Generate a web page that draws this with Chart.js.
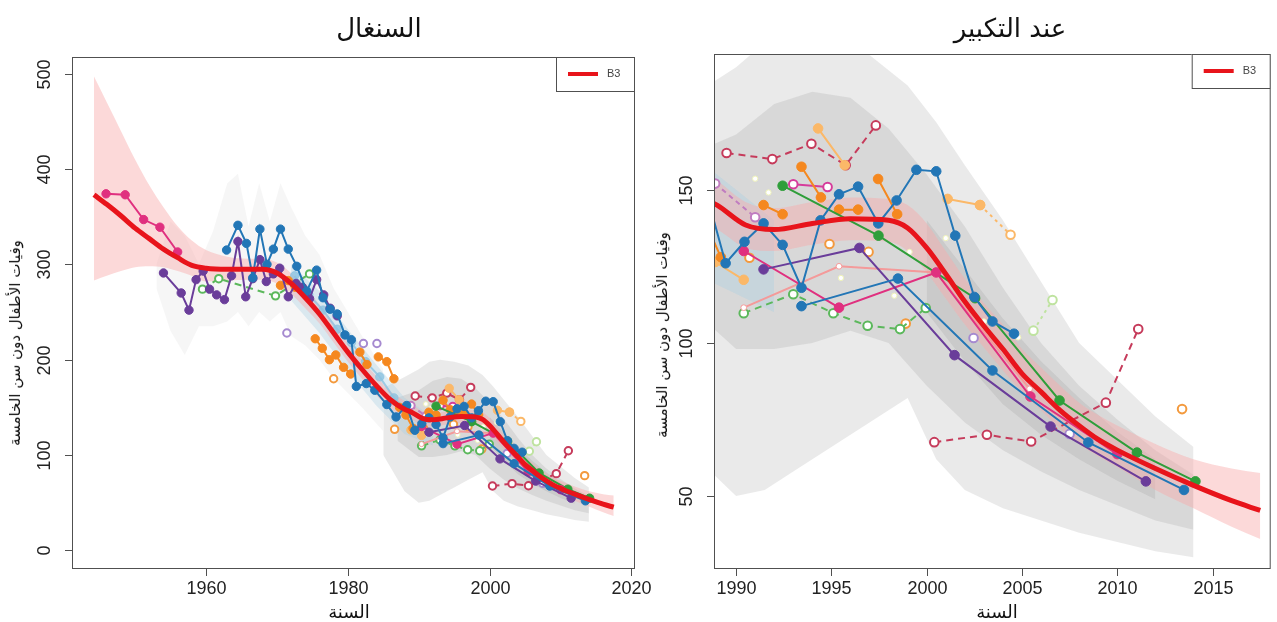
<!DOCTYPE html>
<html lang="ar">
<head>
<meta charset="utf-8">
<title>وفيات الأطفال دون سن الخامسة - السنغال</title>
<script src="https://cdn.jsdelivr.net/npm/chart.js@4.4.1/dist/chart.umd.min.js"></script>
<style>
  html, body { margin: 0; padding: 0; background: #fff; }
  body { width: 1277px; height: 622px; position: relative; overflow: hidden; font-family: "DejaVu Sans", sans-serif; color: #111; }
  .panel { position: absolute; top: 0; height: 622px; }
  #panelG { left: 0; width: 680px; }
  #panelD { left: 640px; width: 637px; }
  canvas { position: absolute; left: 0; top: 0; }
  .titre { position: absolute; top: 10px; height: 36px; line-height: 36px; font-size: 26px; transform: translateX(-50%); white-space: nowrap; direction: rtl; }
  .axeX { position: absolute; top: 601px; height: 22px; line-height: 22px; font-size: 18px; transform: translateX(-50%); white-space: nowrap; direction: rtl; }
  .axeY { position: absolute; font-size: 15px; line-height: 18px; white-space: nowrap; direction: rtl; transform: translate(-50%, -50%) rotate(-90deg); }
</style>
</head>
<body>
<div class="panel" id="panelG">
  <canvas id="chartG" width="680" height="622"></canvas>
  <div class="titre" style="left:379px">السنغال</div>
  <div class="axeX" style="left:349px">السنة</div>
  <div class="axeY" style="left:15px; top:343px">وفيات الأطفال دون سن الخامسة</div>
</div>
<div class="panel" id="panelD">
  <canvas id="chartD" width="637" height="622"></canvas>
  <div class="titre" style="left:370px">عند التكبير</div>
  <div class="axeX" style="left:357px">السنة</div>
  <div class="axeY" style="left:22px; top:335px">وفيات الأطفال دون سن الخامسة</div>
</div>

<script>
// ── AXES ─────────────────────────────────────────────
const xTicksG = [1960, 1980, 2000, 2020];
const yTicksG = [0, 100, 200, 300, 400, 500];
const xTicksD = [1990, 1995, 2000, 2005, 2010, 2015];
const yTicksD = [50, 100, 150];

// ── B3 (courbe ajustée + intervalle) ─────────────────
const b3Years = [1944.2, 1946, 1948, 1950, 1952, 1954, 1956, 1958, 1960, 1963, 1966, 1968, 1970, 1972, 1974, 1976, 1978, 1980, 1982, 1984, 1986, 1988, 1989, 1990.5, 1992, 1994, 1996, 1998, 1999, 2000, 2001, 2002, 2003, 2004, 2005, 2006, 2007, 2008, 2009, 2010, 2012, 2014, 2016, 2017.5];
const b3Mid   = [373, 363, 351, 338, 327, 316, 307, 299, 296, 295, 295, 295, 291, 280, 265, 248, 228, 208, 190, 173, 158, 148, 145, 138.5, 137, 139, 140.5, 140, 137.5, 131, 122.5, 113.5, 105.5, 98, 90, 84, 78, 73, 68.5, 65, 59, 53.5, 48.5, 45.3];
const b3Up    = [497, 470, 440, 410, 383, 360, 340, 325, 315, 308, 306, 306, 302, 291, 276, 258, 238, 218, 200, 183, 167, 157, 153, 146, 144, 146, 147.5, 147, 145, 139, 130, 121, 113, 106, 98, 92, 86, 80.5, 76.5, 73, 67, 62, 59, 57.5];
const b3Low   = [283, 288, 293, 297, 298, 297, 293, 288, 282, 283, 284, 284, 280, 269, 254, 238, 218, 198, 180, 163, 149, 139, 137, 131, 130, 132, 133.5, 133, 130, 123, 114.5, 106, 98.5, 91, 84, 78, 72, 67, 63, 59.5, 52, 46, 40, 36];

// ── SÉRIES (enquêtes) ────────────────────────────────
const pinkYears = [1945.9, 1948.6, 1951.2, 1953.5, 1956.0];
const pinkVals  = [374, 373, 347, 339, 313];

const purpleAYears = [1954.0, 1956.5, 1957.6, 1958.6, 1959.6, 1960.5, 1961.5, 1962.6, 1963.6, 1964.5, 1965.6, 1966.6, 1967.6, 1968.5, 1969.5, 1970.4, 1971.6, 1972.7, 1973.6, 1974.6, 1975.6, 1976.6, 1977.5, 1978.5];
const purpleAVals  = [291, 270, 252, 284, 293, 274, 268, 263, 288, 324, 266, 285, 305, 282, 290, 296, 266, 280, 276, 264, 284, 268, 254, 246];

const blueAYears = [1962.9, 1964.5, 1965.7, 1966.6, 1967.6, 1968.6, 1969.5, 1970.5, 1971.6, 1972.8, 1974.2, 1975.6, 1976.5, 1977.5, 1978.5, 1979.6, 1980.5, 1981.2, 1982.6, 1983.8, 1985.5, 1986.8, 1988.3, 1989.45, 1990.44, 1991.44, 1992.44, 1993.43, 1994.43, 1995.4, 1996.4, 1997.46, 1998.42, 1999.46, 2000.5, 2001.5, 2002.5, 2003.45, 2004.58];
const blueAVals  = [315, 341, 322, 286, 337, 300, 316, 337, 316, 298, 272, 294, 265, 253, 248, 226, 221, 172, 175, 168, 153, 140, 152, 126, 133, 139, 132, 118, 140, 148.5, 151, 139, 146.5, 156.5, 156, 135, 115, 107, 103];

const blueBYears = [1993.43, 1998.49, 2003.45, 2008.48, 2013.5];
const blueBVals  = [112, 121, 91, 67.5, 52];

const purpleBYears = [1991.44, 1996.47, 2001.46, 2006.5, 2011.5];
const purpleBVals  = [124, 131, 96, 72.7, 54.8];

const magentaYears = [1990.4, 1995.4, 2000.5, 2005.44, 2010.0];
const magentaVals  = [130, 111.5, 123, 82.5, 63.7];

const greenYears = [1992.44, 1997.47, 2002.54, 2006.97, 2011.03, 2014.1];
const greenVals  = [151.3, 135, 114.6, 81.2, 64.2, 54.8];

const salmonYears = [1990.4, 1995.4, 2000.5, 2005.4];
const salmonVals  = [111.5, 125, 123, 85];

const orangeYears = [1970.5, 1971.6, 1972.6, 1973.5, 1975.4, 1976.4, 1977.4, 1978.0, 1978.3, 1979.4, 1980.4, 1981.0, 1981.7, 1982.7, 1983.5, 1984.3, 1985.5, 1986.5, 1987.0, 1987.3, 1988.2, 1989.2, 1990.0, 1991.44, 1992.44, 1993.0, 1993.43, 1994.45, 1995.0, 1995.4, 1996.4, 1997.0, 1997.45, 1998.45];
const orangeVals  = [278, 283, 276, null, 222, 212, 200, null, 205, 192, 185, null, 208, 195, null, 203, 198, 180, null, 150, 142, 128, null, 145, 142, null, 157.5, 147.5, null, 143.5, 143.5, null, 153.5, 142];

const lightOrangeYears = [1988.9, 1990.4, 1991.0, 1994.3, 1995.7, 1996.5, 2001.1, 2002.8];
const lightOrangeVals  = [126.4, 120.6, null, 170, 158, null, 147, 145];

const lightOrangeOpenYears = [2002.8, 2004.4];
const lightOrangeOpenVals  = [145, 135.3];

const darkRedAYears = [1989.5, 1991.9, 1993.95, 1995.75, 1997.33];
const darkRedAVals  = [162, 160, 165, 158, 171];

const darkRedBYears = [2000.4, 2003.16, 2005.48, 2009.4, 2011.1];
const darkRedBVals  = [67.6, 70, 67.8, 80.5, 104.5];

const magentaOpenYears = [1993.0, 1994.8];
const magentaOpenVals  = [151.8, 150.9];

const violetOpenYears = [1988.9, 1991.0];
const violetOpenVals  = [152, 141];

const greenOpenYears = [1959.5, 1961.8, 1969.8, 1974.6, 1980.0, 1990.4, 1993.0, 1995.1, 1996.9, 1998.6, 1999.95];
const greenOpenVals  = [274, 285, 267, 290, null, 109.7, 115.9, 109.7, 105.6, 104.5, 111.4];

const paleGreenOpenYears = [2005.6, 2006.6];
const paleGreenOpenVals  = [104, 114];

const lavenderYears = [1971.4, 1982.2, 1984.1, 2002.46, 2007.5];
const lavenderVals  = [228, 217, 217, 101.6, 70.3];

const orangeOpenYears = [1978.0, 1986.6, 1990.7, 1994.9, 1996.95, 1998.9, 2013.4];
const orangeOpenVals  = [180, 127, 127.8, 132.3, 129.7, 106.3, 78.4];

const paleYears = [1991.0, 1991.7, 1995.5, 1998.3, 1999.1, 2001.0, 2003.0, 2004.8];
const paleVals  = [153.6, 149.1, 121.2, 115.4, 129.7, 134.2, 107, 101.8];

const lightBlueYears = [1972.5, 1974.5, 1976.5, 1978.5, 1980.5, 1982.5, 1984.5, 1986.5, 1988.5];
const lightBlueVals  = [288, 268, 252, 232, 218, 198, 182, 160, 146];

// ── BANDES GRISES (incertitude) ──────────────────────
const greyEarlyYears = [1953, 1955, 1957, 1959, 1961, 1963, 1964.5, 1966, 1967.5, 1969, 1970.5, 1972, 1974, 1976, 1978, 1980, 1982, 1985];
const greyEarlyUp    = [300, 345, 330, 300, 335, 385, 395, 340, 385, 345, 385, 360, 330, 310, 275, 250, 225, 190];
const greyEarlyLow   = [275, 230, 205, 235, 235, 240, 250, 235, 250, 240, 250, 225, 215, 200, 180, 165, 150, 125];

const greyWideYears = [1985, 1988, 1990, 1991.5, 1993, 1995, 1997, 1999, 2000.5, 2002, 2004, 2006, 2008, 2010, 2012, 2014];
const greyWideUp    = [170, 182, 190, 198, 200, 198, 194, 184, 172, 158, 140, 120, 100, 88, 76, 66];
const greyWideLow   = [100, 62, 50, 52, 58, 66, 74, 82, 62, 52, 46, 42, 38, 35, 32, 30];

const greyMidYears = [1987, 1990, 1992, 1994, 1996, 1998, 2000, 2002, 2004, 2006, 2008, 2010, 2012, 2014];
const greyMidUp    = [160, 168, 178, 182, 180, 170, 155, 138, 118, 100, 86, 75, 65, 57];
const greyMidLow   = [115, 98, 98, 100, 104, 100, 86, 74, 65, 58, 52, 47, 42, 39];

const greyCoreYears = [2000, 2002, 2004, 2006, 2008, 2010, 2012];
const greyCoreUp    = [140, 124, 108, 94, 82, 71, 62];
const greyCoreLow   = [110, 94, 80, 70, 62, 55, 49];

const lightBlueBandYears = [1972, 1976, 1980, 1984, 1988, 1992];
const lightBlueBandUp    = [300, 272, 232, 195, 160, 140];
const lightBlueBandLow   = [262, 228, 188, 152, 122, 110];

// ── COULEURS ─────────────────────────────────────────
const ROUGE = '#e8141b';
const BLEU = '#2276b6';
const VIOLET = '#6a3d9a';
const MAGENTA = '#e0307f';
const VERT = '#2f9e3a';
const ORANGE = '#f5881f';
const ORANGE_CLAIR = '#fbb868';
const ROUGE_FONCE = '#c63b5b';
const SAUMON = '#f49a9a';
const GRIS = 'rgba(125,125,125,0.16)';

// ── DATASETS ─────────────────────────────────────────
function pts(xs, ys) { return xs.map((x, i) => ({ x, y: ys[i] })); }

function serie(xs, ys, color, r, opts) {
  return Object.assign({
    data: pts(xs, ys), borderColor: color, backgroundColor: color, borderWidth: 2,
    pointRadius: r, pointBackgroundColor: color, pointBorderColor: color, pointBorderWidth: 1,
    tension: 0, fill: false, order: 10
  }, opts || {});
}

function ouvert(xs, ys, color, r, opts) {
  return serie(xs, ys, color, r, Object.assign({ pointBackgroundColor: '#fff', pointBorderWidth: 2, pointRadius: r - 0.5 }, opts || {}));
}

function bande(xs, up, low, color, order, smooth) {
  const extra = smooth ? { cubicInterpolationMode: 'monotone' } : { tension: 0 };
  return [
    Object.assign({ data: pts(xs, low), borderWidth: 0, pointRadius: 0, fill: false, order }, extra),
    Object.assign({ data: pts(xs, up), borderWidth: 0, pointRadius: 0, fill: '-1', backgroundColor: color, order }, extra),
  ];
}

function construireDatasets(r) {
  const ds = [];
  ds.push({ data: pts(b3Years, b3Mid), borderColor: ROUGE, borderWidth: 5, pointRadius: 0,
            cubicInterpolationMode: 'monotone', fill: false, order: 0 });

  ds.push(serie(blueAYears, blueAVals, BLEU, r, { order: 2 }));
  ds.push(serie(blueBYears, blueBVals, BLEU, r, { order: 3 }));
  ds.push(serie(purpleAYears, purpleAVals, VIOLET, r, { order: 4 }));
  ds.push(serie(purpleBYears, purpleBVals, VIOLET, r, { order: 4 }));
  ds.push(serie(magentaYears, magentaVals, MAGENTA, r, { order: 5 }));
  ds.push(serie(pinkYears, pinkVals, MAGENTA, r, { order: 5 }));
  ds.push(serie(greenYears, greenVals, VERT, r, { order: 6 }));
  ds.push(serie(orangeYears, orangeVals, ORANGE, r, { order: 7 }));
  ds.push(serie(lightOrangeYears, lightOrangeVals, ORANGE_CLAIR, r, { order: 8 }));
  ds.push(ouvert(lightOrangeOpenYears, lightOrangeOpenVals, ORANGE_CLAIR, r, { borderDash: [3, 4], order: 8 }));
  ds.push(serie(salmonYears, salmonVals, SAUMON, r * 0.6, { pointBackgroundColor: '#fff', order: 9 }));
  ds.push(ouvert(darkRedAYears, darkRedAVals, ROUGE_FONCE, r, { borderDash: [7, 5], order: 9 }));
  ds.push(ouvert(darkRedBYears, darkRedBVals, ROUGE_FONCE, r, { borderDash: [7, 5], order: 9 }));
  ds.push(ouvert(magentaOpenYears, magentaOpenVals, '#d63c9b', r, { order: 9 }));
  ds.push(ouvert(violetOpenYears, violetOpenVals, '#c07cc0', r, { borderDash: [5, 4], order: 9 }));
  ds.push(ouvert(greenOpenYears, greenOpenVals, '#5cb85c', r, { borderDash: [7, 5], order: 9 }));
  ds.push(ouvert(paleGreenOpenYears, paleGreenOpenVals, '#bfe3a0', r, { borderDash: [3, 4], order: 9 }));
  ds.push(ouvert(lavenderYears, lavenderVals, '#a68ad0', r, { showLine: false, order: 9 }));
  ds.push(ouvert(orangeOpenYears, orangeOpenVals, '#f39a3e', r, { showLine: false, order: 9 }));
  ds.push(serie(paleYears, paleVals, '#f0f4c8', r * 0.55, { showLine: false, pointBackgroundColor: '#fff', pointBorderColor: '#eef2b8', order: 9 }));
  ds.push(serie(lightBlueYears, lightBlueVals, 'rgba(140,195,225,0.8)', r, { order: 12 }));

  ds.push(...bande(b3Years, b3Up, b3Low, 'rgba(248,170,170,0.45)', 40, true));
  ds.push(...bande(lightBlueBandYears, lightBlueBandUp, lightBlueBandLow, 'rgba(166,206,227,0.35)', 45));
  ds.push(...bande(greyCoreYears, greyCoreUp, greyCoreLow, GRIS, 50));
  ds.push(...bande(greyMidYears, greyMidUp, greyMidLow, GRIS, 51));
  ds.push(...bande(greyWideYears, greyWideUp, greyWideLow, GRIS, 52));
  ds.push(...bande(greyEarlyYears, greyEarlyUp, greyEarlyLow, 'rgba(150,150,150,0.09)', 53));
  return ds;
}

// ── CADRE, GRADUATIONS, LÉGENDE ──────────────────────
const cadrePlugin = {
  id: 'cadre',
  afterDraw(chart, args, opts) {
    const { ctx, chartArea: a, scales: { x, y } } = chart;
    ctx.save();
    ctx.strokeStyle = '#505050';
    ctx.lineWidth = 1;
    ctx.strokeRect(a.left + 0.5, a.top + 0.5, a.right - a.left - 1, a.bottom - a.top - 1);

    ctx.fillStyle = '#222';
    ctx.font = '18px "Liberation Sans", Arial, sans-serif';
    ctx.textAlign = 'center';
    ctx.textBaseline = 'middle';
    opts.xTicks.forEach(v => {
      const px = Math.round(x.getPixelForValue(v)) + 0.5;
      ctx.beginPath(); ctx.moveTo(px, a.bottom); ctx.lineTo(px, a.bottom + 7); ctx.stroke();
      ctx.fillText(String(v), px, a.bottom + 20);
    });
    opts.yTicks.forEach(v => {
      const py = Math.round(y.getPixelForValue(v)) + 0.5;
      ctx.beginPath(); ctx.moveTo(a.left, py); ctx.lineTo(a.left - 7, py); ctx.stroke();
      ctx.save();
      ctx.translate(a.left - 27, py);
      ctx.rotate(-Math.PI / 2);
      ctx.fillText(String(v), 0, 0);
      ctx.restore();
    });

    // légende
    const bw = 79, bh = 35, bx = a.right - bw, by = a.top;
    ctx.fillStyle = '#fff';
    ctx.fillRect(bx, by, bw, bh);
    ctx.strokeRect(bx + 0.5, by + 0.5, bw - 1, bh - 1);
    ctx.strokeStyle = ROUGE;
    ctx.lineWidth = 4;
    ctx.beginPath(); ctx.moveTo(bx + 12, by + 17); ctx.lineTo(bx + 42, by + 17); ctx.stroke();
    ctx.fillStyle = '#444';
    ctx.font = '11px "Liberation Sans", Arial, sans-serif';
    ctx.textAlign = 'left';
    ctx.fillText('B3', bx + 51, by + 17);
    ctx.restore();
  }
};

function creerGraphique(id, xMin, xMax, yMin, yMax, xTicks, yTicks, padding, r) {
  return new Chart(document.getElementById(id), {
    type: 'line',
    data: { datasets: construireDatasets(r) },
    options: {
      responsive: false, animation: false, devicePixelRatio: 1, events: [],
      layout: { padding },
      scales: {
        x: { type: 'linear', min: xMin, max: xMax, display: false },
        y: { type: 'linear', min: yMin, max: yMax, display: false }
      },
      plugins: { legend: { display: false }, tooltip: { enabled: false }, cadre: { xTicks, yTicks } }
    },
    plugins: [cadrePlugin]
  });
}

// ── INIT ─────────────────────────────────────────────
creerGraphique('chartG', 1941.1, 2020.5, -19.5, 517.5, xTicksG, yTicksG, { left: 72, right: 45, top: 57, bottom: 53 }, 4.2);
creerGraphique('chartD', 1988.84, 2018.05, 26.2, 194.3, xTicksD, yTicksD, { left: 74, right: 1, top: 54, bottom: 53 }, 4.8);
</script>
</body>
</html>
